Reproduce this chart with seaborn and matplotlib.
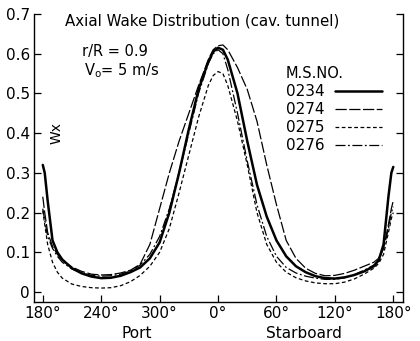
import numpy as np
import pandas as pd
import matplotlib
matplotlib.use("Agg")
import matplotlib.pyplot as plt
import seaborn as sns

# ---------------- data ----------------
angle = [-180, -178, -175, -170, -165, -160, -150, -140, -130, -120, -110, -100,
         -90, -80, -70, -60, -50, -40, -30, -20, -10, -5, 0, 5, 10, 20, 30, 40,
         50, 60, 70, 80, 90, 100, 110, 120, 130, 140, 150, 160, 165, 170, 175,
         178, 180]

wx_0234 = [0.32, 0.30, 0.23, 0.13, 0.10, 0.082, 0.060, 0.047, 0.039, 0.035, 0.036, 0.041,
           0.050, 0.062, 0.085, 0.125, 0.20, 0.30, 0.41, 0.51, 0.58, 0.605, 0.615, 0.61,
           0.585, 0.50, 0.38, 0.27, 0.19, 0.13, 0.09, 0.065, 0.050, 0.040, 0.035, 0.034,
           0.037, 0.043, 0.052, 0.065, 0.080, 0.12, 0.24, 0.30, 0.315]

wx_0274 = [0.24, 0.20, 0.15, 0.115, 0.095, 0.080, 0.063, 0.052, 0.045, 0.043, 0.044, 0.048,
           0.055, 0.070, 0.12, 0.21, 0.30, 0.38, 0.45, 0.52, 0.585, 0.61, 0.62, 0.622,
           0.61, 0.565, 0.51, 0.43, 0.32, 0.22, 0.13, 0.085, 0.060, 0.047, 0.041, 0.042,
           0.047, 0.055, 0.065, 0.075, 0.085, 0.11, 0.17, 0.21, 0.23]

wx_0275 = [0.205, 0.17, 0.12, 0.075, 0.050, 0.035, 0.020, 0.014, 0.011, 0.010, 0.011, 0.016,
           0.026, 0.042, 0.065, 0.10, 0.16, 0.25, 0.345, 0.44, 0.52, 0.545, 0.555, 0.55,
           0.52, 0.43, 0.32, 0.20, 0.12, 0.075, 0.050, 0.036, 0.028, 0.023, 0.021, 0.021,
           0.025, 0.033, 0.045, 0.060, 0.072, 0.095, 0.15, 0.185, 0.20]

wx_0276 = [0.21, 0.18, 0.14, 0.11, 0.090, 0.075, 0.058, 0.048, 0.042, 0.040, 0.041, 0.045,
           0.053, 0.068, 0.095, 0.14, 0.21, 0.30, 0.40, 0.50, 0.575, 0.60, 0.61, 0.60,
           0.56, 0.45, 0.33, 0.22, 0.14, 0.09, 0.062, 0.048, 0.040, 0.035, 0.032, 0.032,
           0.036, 0.044, 0.055, 0.068, 0.080, 0.11, 0.16, 0.20, 0.215]

ms_no = ["0234", "0274", "0275", "0276"]
x_ticks = [-180, -120, -60, 0, 60, 120, 180]
x_labels = ["180°", "240°", "300°", "0°", "60°", "120°", "180°"]
y_ticks = [0, 0.1, 0.2, 0.3, 0.4, 0.5, 0.6, 0.7]
y_labels = ["0", "0.1", "0.2", "0.3", "0.4", "0.5", "0.6", "0.7"]

# ---------------- style ----------------
sns.set_style("ticks")
plt.rcParams['font.family'] = ['DejaVu Sans']
plt.rcParams['text.color'] = 'black'
plt.rcParams['xtick.color'] = 'black'
plt.rcParams['ytick.color'] = 'black'
plt.rcParams['xtick.labelcolor'] = 'black'
plt.rcParams['ytick.labelcolor'] = 'black'

series = {"0234": wx_0234, "0274": wx_0274, "0275": wx_0275, "0276": wx_0276}
styles = {
    "0234": dict(lw=1.8, linestyle="-"),
    "0274": dict(lw=0.9, linestyle=(0, (9, 2))),
    "0275": dict(lw=0.9, linestyle=(0, (3, 2))),
    "0276": dict(lw=0.9, linestyle=(0, (8, 2, 1.5, 2))),
}

fig = plt.figure(figsize=(4.2, 3.41), dpi=100)
ax = fig.add_axes([0.081, 0.1144, 0.8786, 0.8446])

for name in ms_no:
    sns.lineplot(x=angle, y=series[name], ax=ax, color="black",
                 label=name, **styles[name])

ax.set_xlim(-189, 190)
ax.set_ylim(-0.025, 0.7)
ax.set_xticks(x_ticks)
ax.set_xticklabels(x_labels, fontsize=11)
ax.set_yticks(y_ticks)
ax.set_yticklabels(y_labels, fontsize=11)
ax.tick_params(direction="in", length=5, width=0.9, color="black",
               labelcolor="black", pad=3)
ax.tick_params(axis="y", right=True, labelright=False)
ax.spines["top"].set_visible(False)
for s in ["left", "right", "bottom"]:
    ax.spines[s].set_linewidth(1.0)
    ax.spines[s].set_color("black")
ax.set_xlabel("")
ax.set_ylabel("")

# texts
ax.text(-157, 0.683, "Axial Wake Distribution (cav. tunnel)", fontsize=10.8,
        ha="left", va="center")
ax.text(-140, 0.605, "r/R = 0.9", fontsize=10.5, ha="left", va="center")
ax.text(-138, 0.557, r"V$_\mathregular{o}$= 5 m/s", fontsize=10.5, ha="left", va="center")
ax.text(-166, 0.40, "Wx", fontsize=10, rotation=90, ha="center", va="center")
ax.text(-83, -0.105, "Port", fontsize=11, ha="center", va="center",
        transform=ax.transData, clip_on=False)
ax.text(88, -0.105, "Starboard", fontsize=11, ha="center", va="center",
        transform=ax.transData, clip_on=False)

leg = ax.legend(title="M.S.NO.", loc="upper left", bbox_to_anchor=(0.665, 0.84),
                frameon=False, markerfirst=False, fontsize=11, title_fontsize=10.5,
                handlelength=3.1, handletextpad=0.7, labelspacing=0.2,
                borderaxespad=0, alignment="left")
for line in leg.get_lines():
    line.set_color("black")
for t in leg.get_texts():
    t.set_color("black")
leg.get_title().set_color("black")

fig.savefig("out.png", dpi=100)
